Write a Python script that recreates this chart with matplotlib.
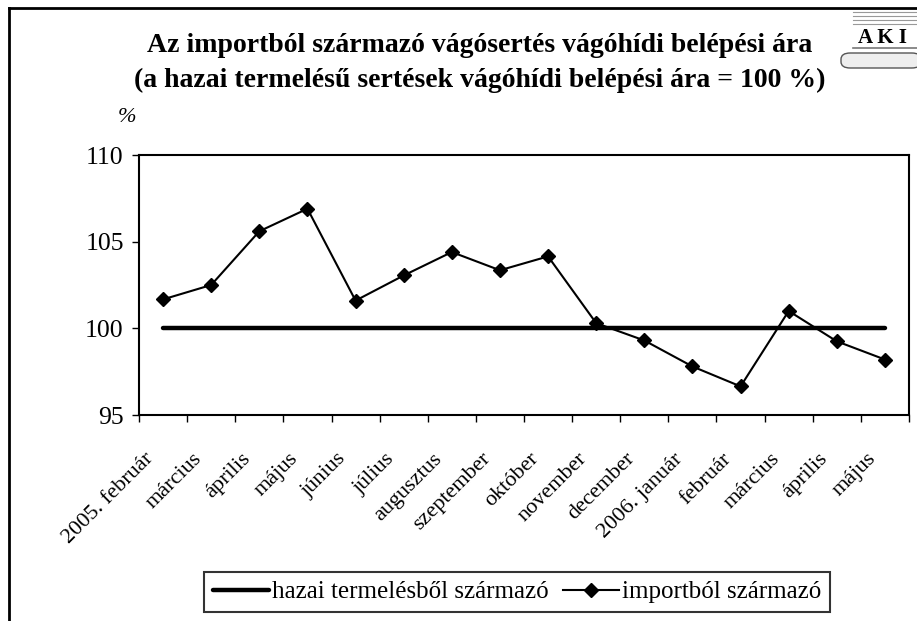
import numpy as np
import matplotlib
matplotlib.use("Agg")
import matplotlib.pyplot as plt
import matplotlib.transforms as mtransforms
from matplotlib.lines import Line2D
from matplotlib.patches import FancyBboxPatch, Rectangle

plt.rcParams['font.family'] = ['Liberation Serif', 'DejaVu Serif']

# --- adatok ---
honapok = ["2005. február", "március", "április", "május", "június", "július",
           "augusztus", "szeptember", "október", "november", "december",
           "2006. január", "február", "március", "április", "május"]
hazai = [100] * 16
import_ar = [101.67, 102.5, 105.6, 106.9, 101.6, 103.05, 104.4, 103.35,
             104.15, 100.3, 99.3, 97.8, 96.65, 101.0, 99.25, 98.2]

fig = plt.figure(figsize=(9.17, 6.21), dpi=100)
ax = fig.add_axes([139 / 917, 1 - 415 / 621, 770 / 917, 260 / 621])

x = np.arange(len(honapok)) + 0.5
ax.plot(x, hazai, color='black', linewidth=3.2, solid_capstyle='round',
        label='hazai termelésből származó', zorder=2)
ax.plot(x, import_ar, color='black', linewidth=1.5, marker='D', markersize=7.5,
        label='importból származó', zorder=3)

ax.set_xlim(0, len(honapok))
ax.set_ylim(95, 110)
ax.set_yticks([95, 100, 105, 110])
ax.set_xticks(np.arange(len(honapok) + 1))
ax.set_xticklabels([])
ax.set_xticks(x, minor=True)
ax.set_xticklabels(honapok, minor=True, rotation=45, ha='right', va='center',
                   rotation_mode='anchor', fontsize=16)
ax.tick_params(axis='x', which='minor', length=0, pad=16)
ax.tick_params(axis='x', which='major', direction='out', length=5, width=1)
ax.tick_params(axis='y', direction='out', length=5, width=1, labelsize=18.5, pad=6)
for s in ax.spines.values():
    s.set_linewidth(1.5)

# a címkéket lejjebb és balra toljuk
eltolas = mtransforms.ScaledTranslation(-12 / 100, -19 / 100, fig.dpi_scale_trans)
for lbl in ax.get_xticklabels(minor=True):
    lbl.set_transform(lbl.get_transform() + eltolas)

fig.text(127 / 917, 1 - 118 / 621, '%', fontsize=16, style='italic',
         ha='center', va='center')

fig.text(480 / 917, 1 - 45 / 621,
         'Az importból származó vágósertés vágóhídi belépési ára',
         fontsize=20, fontweight='bold', ha='center', va='center')
fig.text(480 / 917, 1 - 80 / 621,
         '(a hazai termelésű sertések vágóhídi belépési ára = 100 %)',
         fontsize=20, fontweight='bold', ha='center', va='center')

leg = ax.legend(loc='center', bbox_to_anchor=(517 / 917, 1 - 592 / 621),
                bbox_transform=fig.transFigure, ncol=2, fontsize=18,
                frameon=True, fancybox=False, edgecolor='black',
                handlelength=2.25, handletextpad=0.1, columnspacing=0.6,
                borderpad=0.35, borderaxespad=0)
leg.get_frame().set_linewidth(1.5)

# keret
fig.add_artist(Line2D([9 / 917, 1], [1 - 8 / 621, 1 - 8 / 621],
                      transform=fig.transFigure, color='black', linewidth=2))
fig.add_artist(Line2D([9 / 917, 9 / 917], [0, 1 - 8 / 621],
                      transform=fig.transFigure, color='black', linewidth=2))

# AKI logó
logo_bg = Rectangle((838 / 917, 1 - 76 / 621), 79 / 917, 62 / 621,
                    transform=fig.transFigure, facecolor='white',
                    edgecolor='none', zorder=4)
fig.add_artist(logo_bg)
for yy in [12, 16, 20, 24]:
    fig.add_artist(Line2D([853 / 917, 917 / 917], [1 - yy / 621] * 2,
                          transform=fig.transFigure, color='#999999',
                          linewidth=0.8, zorder=5))
fig.text(882 / 917, 1 - 38 / 621, 'A K I', fontsize=15, fontweight='bold',
         ha='center', va='center', zorder=6)
fig.add_artist(Line2D([853 / 917, 917 / 917], [1 - 48 / 621] * 2,
                      transform=fig.transFigure, color='#777777', linewidth=1.2,
                      zorder=5))
cyl = FancyBboxPatch((841 / 917, 1 - 68 / 621), 80 / 917, 15 / 621,
                     boxstyle='round,pad=0,rounding_size=0.01',
                     transform=fig.transFigure, facecolor='#eeeeee',
                     edgecolor='#555555', linewidth=1, zorder=5)
fig.add_artist(cyl)

fig.savefig('out.png', dpi=100)
